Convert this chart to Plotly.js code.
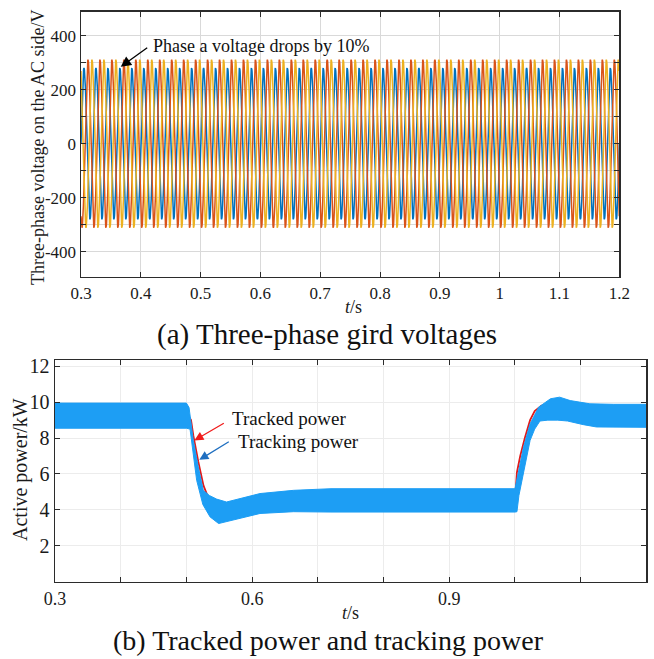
<!DOCTYPE html>
<html>
<head>
<meta charset="utf-8">
<script src="https://cdn.plot.ly/plotly-3.0.1.min.js"></script>
<style>html,body{margin:0;padding:0;background:#fff}#chart{width:654px;height:659px}</style>
</head>
<body>
<div id="chart"></div>
<script>
// ---------- Data: (a) three-phase grid voltages ----------
const timeStart = 0.3;
const timeEnd = 1.2;
const gridFrequencyHz = 50;
const phaseLabels = ['Phase a', 'Phase b', 'Phase c'];
const phaseAmplitudeV = [280, 311, 311];   // phase a dropped by 10 %
const phaseAngleDeg = [0, -120, 120];

const topXTicks = [0.3, 0.4, 0.5, 0.6, 0.7, 0.8, 0.9, 1.0, 1.1, 1.2];
const topXTickLabels = ['0.3', '0.4', '0.5', '0.6', '0.7', '0.8', '0.9', '1', '1.1', '1.2'];
const topYTicks = [-400, -300, -200, -100, 0, 100, 200, 300, 400];
const topYTickLabels = ['-400', '', '-200', '', '0', '', '200', '', '400'];

// ---------- Data: (b) tracked and tracking power ----------
const trackedTime = [0.3, 0.502, 0.507, 0.5105, 0.518, 0.526, 0.532, 0.54, 0.56, 0.6, 0.7, 1.0, 1.003, 1.008, 1.015, 1.023, 1.03, 1.04, 1.05, 1.07, 1.1, 1.15, 1.2];
const trackedPowerKW = [9.3, 9.3, 9.0, 8.15, 6.7, 5.35, 4.8, 4.4, 4.0, 4.35, 4.55, 4.55, 6.1, 7.0, 8.0, 9.0, 9.5, 9.8, 9.9, 9.7, 9.4, 9.3, 9.3];

const trackingUpperTime = [0.3, 0.5, 0.504, 0.5105, 0.518, 0.5257, 0.535, 0.546, 0.561, 0.58, 0.612, 0.663, 0.72, 1.0, 1.005, 1.013, 1.023, 1.036, 1.054, 1.068, 1.084, 1.114, 1.15, 1.2];
const trackingUpperKW = [9.95, 9.95, 9.7, 7.87, 6.4, 5.09, 4.8, 4.6, 4.44, 4.6, 4.91, 5.09, 5.18, 5.18, 6.0, 7.5, 8.8, 9.72, 10.19, 10.28, 10.09, 9.91, 9.88, 9.88];
const trackingLowerTime = [0.3, 0.5, 0.5055, 0.5156, 0.525, 0.536, 0.549, 0.561, 0.58, 0.612, 0.663, 0.72, 1.0, 1.003, 1.006, 1.013, 1.023, 1.03, 1.038, 1.05, 1.065, 1.08, 1.104, 1.124, 1.2];
const trackingLowerKW = [8.55, 8.55, 8.5, 5.65, 4.3, 3.61, 3.24, 3.33, 3.5, 3.8, 3.9, 3.88, 3.88, 3.9, 4.8, 6.0, 7.87, 8.5, 8.95, 9.0, 9.0, 8.95, 8.75, 8.62, 8.6];

const botXTicks = [0.3, 0.4, 0.5, 0.6, 0.7, 0.8, 0.9, 1.0, 1.1, 1.2];
const botXTickLabels = ['0.3', '', '', '0.6', '', '', '0.9', '', '', '1.2'];
const botYTicks = [2, 4, 6, 8, 10, 12];
const botYTickLabels = ['2', '4', '6', '8', '10', '12'];

// ---------- Build traces ----------
const FONT = 'Liberation Serif';
const phaseColors = ['#0072BD', '#D95319', '#EDB120'];

const samplesPerCycle = 60;
const nSamples = Math.round((timeEnd - timeStart) * gridFrequencyHz * samplesPerCycle) + 1;
const tGrid = [];
for (let i = 0; i < nSamples; i++) tGrid.push(timeStart + (timeEnd - timeStart) * i / (nSamples - 1));

const traces = [];
phaseLabels.forEach((name, k) => {
  const w = 2 * Math.PI * gridFrequencyHz;
  const ph = phaseAngleDeg[k] * Math.PI / 180;
  traces.push({
    x: tGrid,
    y: tGrid.map(t => phaseAmplitudeV[k] * Math.sin(w * t + ph)),
    type: 'scatter', mode: 'lines', name: name,
    line: {color: phaseColors[k], width: 1.5},
    xaxis: 'x', yaxis: 'y', hoverinfo: 'skip'
  });
});

traces.push({
  x: trackedTime, y: trackedPowerKW, type: 'scatter', mode: 'lines', name: 'Tracked power',
  line: {color: '#e01b1b', width: 1.8}, xaxis: 'x2', yaxis: 'y2'
});
traces.push({
  x: trackingUpperTime.concat(trackingLowerTime.slice().reverse()),
  y: trackingUpperKW.concat(trackingLowerKW.slice().reverse()),
  type: 'scatter', mode: 'lines', name: 'Tracking power', fill: 'toself',
  fillcolor: '#1d9ef4', line: {color: '#1d9ef4', width: 1}, xaxis: 'x2', yaxis: 'y2'
});

// ---------- Layout ----------
const W = 654, H = 659;
const px = v => v / W;
const py = v => 1 - v / H;
const f = (size, color) => ({family: FONT, size: size, color: color || '#1a1a1a'});

const axisCommon = {
  showline: true, linecolor: '#2b2b2b', linewidth: 1.5, mirror: 'ticks',
  ticks: 'inside', ticklen: 5, tickwidth: 1, tickcolor: '#2b2b2b',
  zeroline: false, showgrid: true, gridwidth: 1, tickmode: 'array'
};

const layout = {
  width: W, height: H,
  margin: {l: 0, r: 0, t: 0, b: 0},
  paper_bgcolor: '#ffffff', plot_bgcolor: '#ffffff',
  showlegend: false,
  font: f(16),
  xaxis: Object.assign({}, axisCommon, {
    domain: [px(81), px(619.3)], range: [timeStart, timeEnd], anchor: 'y',
    tickvals: topXTicks, ticktext: topXTickLabels, gridcolor: '#d9d9d9',
    tickfont: f(17)
  }),
  yaxis: Object.assign({}, axisCommon, {
    domain: [py(276.7), py(11.7)], range: [-493, 489], anchor: 'x',
    tickvals: topYTicks, ticktext: topYTickLabels, gridcolor: '#d9d9d9',
    tickfont: f(17)
  }),
  xaxis2: Object.assign({}, axisCommon, {
    domain: [px(55), px(646.4)], range: [timeStart, timeEnd], anchor: 'y2',
    tickvals: botXTicks, ticktext: botXTickLabels, gridcolor: '#ececec',
    tickfont: f(18)
  }),
  yaxis2: Object.assign({}, axisCommon, {
    domain: [py(581.7), py(360)], range: [0, 12.35], anchor: 'x2',
    tickvals: botYTicks, ticktext: botYTickLabels, gridcolor: '#ececec',
    tickfont: f(20)
  }),
  annotations: [
    // axis titles
    {xref: 'paper', yref: 'paper', x: px(38), y: py(148), text: 'Three-phase voltage on the AC side/V',
     textangle: -90, showarrow: false, xanchor: 'center', yanchor: 'middle', font: f(18)},
    {xref: 'paper', yref: 'paper', x: px(353), y: py(307), text: '<i>t</i>/s',
     showarrow: false, xanchor: 'center', yanchor: 'middle', font: f(18)},
    {xref: 'paper', yref: 'paper', x: px(327), y: py(334), text: '(a) Three-phase gird voltages',
     showarrow: false, xanchor: 'center', yanchor: 'middle', font: f(29, '#111')},
    {xref: 'paper', yref: 'paper', x: px(20), y: py(470), text: 'Active power/kW',
     textangle: -90, showarrow: false, xanchor: 'center', yanchor: 'middle', font: f(20)},
    {xref: 'paper', yref: 'paper', x: px(350), y: py(613), text: '<i>t</i>/s',
     showarrow: false, xanchor: 'center', yanchor: 'middle', font: f(18)},
    {xref: 'paper', yref: 'paper', x: px(328.5), y: py(640), text: '(b) Tracked power and tracking power',
     showarrow: false, xanchor: 'center', yanchor: 'middle', font: f(28, '#111')},
    // in-plot annotations
    {xref: 'paper', yref: 'paper', x: px(151), y: py(46), text: 'Phase a voltage drops by 10%',
     showarrow: false, xanchor: 'left', yanchor: 'middle', font: f(18, '#111')},
    {xref: 'x', yref: 'y', x: 0.3664, y: 285, ax: 28, ay: -20, text: '', showarrow: true,
     arrowhead: 2, arrowsize: 1.6, arrowwidth: 1.3, arrowcolor: '#000'},
    {xref: 'paper', yref: 'paper', x: px(230), y: py(418), text: 'Tracked power',
     showarrow: false, xanchor: 'left', yanchor: 'middle', font: f(19, '#111')},
    {xref: 'x2', yref: 'y2', x: 0.512, y: 7.87, ax: 31, ay: -18, text: '', showarrow: true,
     arrowhead: 2, arrowsize: 1.4, arrowwidth: 1.3, arrowcolor: '#f01c1c'},
    {xref: 'paper', yref: 'paper', x: px(236), y: py(441), text: 'Tracking power',
     showarrow: false, xanchor: 'left', yanchor: 'middle', font: f(19, '#111')},
    {xref: 'x2', yref: 'y2', x: 0.5196, y: 6.79, ax: 31, ay: -19, text: '', showarrow: true,
     arrowhead: 2, arrowsize: 1.4, arrowwidth: 1.3, arrowcolor: '#1f6fc0'}
  ]
};

Plotly.newPlot('chart', traces, layout, {staticPlot: true, displayModeBar: false});
</script>
</body>
</html>
